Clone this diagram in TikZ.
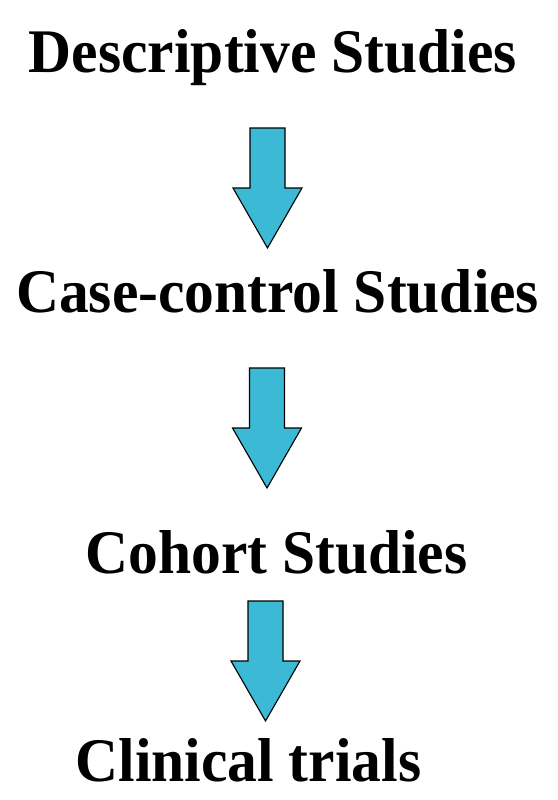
\documentclass[tikz,border=0pt]{standalone}
\usepackage{fontspec}
\setmainfont[FakeStretch=0.96]{Liberation Serif}
\usetikzlibrary{positioning}
\definecolor{arrowblue}{RGB}{59,185,213}

\begin{document}
\begin{tikzpicture}[x=1pt, y=-1pt,
    stage/.style={font=\fontsize{62}{66}\selectfont\bfseries, inner sep=0pt, anchor=base},
    downarrow/.pic={
      \draw[fill=arrowblue, draw=black, line width=1.1pt, line join=miter]
        (-17.5,0) -- (17.5,0) -- (17.5,60) -- (34.5,60) -- (0,120)
        -- (-34.5,60) -- (-17.5,60) -- cycle;
    }]
      \useasboundingbox (0,0) rectangle (557,800);

      % Study designs
      \node[stage] (desc) at (272.8,73) {Descriptive Studies};
      \node[stage] (casectrl) at (277.7,312) {Case-control Studies};
      \node[stage] (cohort) at (276.6,573) {Cohort Studies};
      \node[stage] (trials) at (248.4,781) {Clinical trials};

      % Block arrows between them
      \pic at (267.5,128) {downarrow};
      \pic at (267,368) {downarrow};
      \pic at (265.5,601) {downarrow};
    \end{tikzpicture}
\end{document}
